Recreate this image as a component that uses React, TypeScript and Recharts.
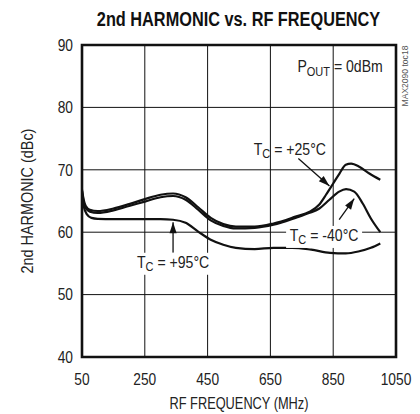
import React from 'react';
import {
  LineChart, Line, XAxis, YAxis, CartesianGrid, ReferenceArea, ReferenceDot, ReferenceLine,
} from 'recharts';

const FONT = "'Liberation Sans', Arial, sans-serif";

// x ticks / y ticks
const FREQ_TICKS = [50, 250, 450, 650, 850, 1050];
const HARM_TICKS = [40, 50, 60, 70, 80, 90];

// TC = +25°C
const FREQ_25 = [50, 55, 62, 75, 100, 150, 200, 250, 300, 340, 380, 420, 460, 500, 540, 600, 660, 730, 775, 805, 827, 850, 870, 890, 907, 933, 965, 1000];
const HARM_25 = [66.8, 65.3, 64.2, 63.6, 63.4, 63.8, 64.5, 65.3, 66.0, 66.2, 65.6, 64.0, 62.3, 61.3, 60.9, 60.9, 61.4, 62.5, 63.3, 64.4, 66.0, 67.8, 69.4, 70.8, 71.0, 70.5, 69.4, 68.4];

// TC = -40°C
const FREQ_M40 = [50, 55, 62, 75, 100, 150, 200, 250, 300, 340, 380, 420, 460, 500, 540, 600, 660, 730, 775, 806, 838, 869, 891, 917, 944, 970, 1000];
const HARM_M40 = [66.6, 65.0, 63.9, 63.3, 63.1, 63.5, 64.2, 64.9, 65.6, 65.8, 65.2, 63.6, 61.9, 61.0, 60.6, 60.7, 61.2, 62.3, 63.1, 63.8, 65.2, 66.5, 66.9, 66.5, 64.6, 62.2, 60.0];

// TC = +95°C
const FREQ_95 = [50, 55, 65, 80, 100, 150, 200, 250, 300, 340, 380, 420, 460, 500, 540, 600, 660, 720, 780, 840, 890, 930, 970, 1000];
const HARM_95 = [65.5, 64.2, 62.9, 62.3, 62.15, 62.1, 62.1, 62.1, 62.1, 62.0, 61.5, 60.1, 58.8, 58.0, 57.5, 57.3, 57.5, 57.5, 57.2, 56.7, 56.6, 56.9, 57.5, 58.2];

const toPoints = (fs: number[], vs: number[]) => fs.map((f, i) => ({ f, v: vs[i] }));

const series = [
  { name: '+25', data: toPoints(FREQ_25, HARM_25) },
  { name: '-40', data: toPoints(FREQ_M40, HARM_M40) },
  { name: '+95', data: toPoints(FREQ_95, HARM_95) },
];

// label baseline position, arrow tail -> tip (data units), arrow angle in screen degrees
const NOTES = [
  { rest: ' = +25°C', x: 712, y: 72.4, bg: false, tail: [739, 71.8], tip: [838, 67.4], angle: 42 },
  { rest: ' = -40°C', x: 821, y: 58.6, bg: true, tail: [869, 62.0], tip: [917, 65.4], angle: -56 },
  { rest: ' = +95°C', x: 340, y: 54.3, bg: true, tail: [340, 56.7], tip: [340, 61.6], angle: -90 },
];

// condensed-looking text: regular sans squeezed horizontally
function Narrow({ x, y, anchor = 'middle', size = 16, weight, sx = 0.86, rotate = 0, fill = '#222', children }: any) {
  return (
    <text
      transform={`translate(${x},${y}) rotate(${rotate}) scale(${sx},1)`}
      textAnchor={anchor}
      fontFamily={FONT}
      fontSize={size}
      fontWeight={weight}
      fill={fill}
    >
      {children}
    </text>
  );
}

function XTick({ x, y, payload }: any) {
  return <Narrow x={x} y={y + 11}>{payload.value}</Narrow>;
}

function YTick({ x, y, payload }: any) {
  return <Narrow x={x} y={y + 5.8} anchor="end">{payload.value}</Narrow>;
}

function NoteText({ cx, cy, main, sub, rest, bg }: any) {
  return (
    <g>
      {bg && <rect x={cx - 38} y={cy - 15} width={76} height={22} fill="#fff" />}
      <Narrow x={cx} y={cy} sx={0.88}>
        <tspan>{main}</tspan>
        <tspan fontSize={12.5} dy={3.5}>{sub}</tspan>
        <tspan dy={-3.5}>{rest}</tspan>
      </Narrow>
    </g>
  );
}

function ArrowHead({ cx, cy, angle }: any) {
  return (
    <path
      d="M0,0 L-11,-3.6 L-11,3.6 Z"
      fill="#111"
      transform={`translate(${cx},${cy}) rotate(${angle})`}
    />
  );
}

export default function App() {
  return (
    <div style={{ position: 'absolute', left: 0, top: 0, width: 420, height: 414, background: '#fff' }}>
      <LineChart width={420} height={414} margin={{ top: 45, right: 24, bottom: 0, left: 0 }}>
        <CartesianGrid stroke="#111" strokeWidth={1} />
        <XAxis
          dataKey="f"
          type="number"
          domain={[50, 1050]}
          ticks={FREQ_TICKS}
          allowDataOverflow
          axisLine={false}
          tickLine={false}
          tickSize={0}
          tickMargin={17}
          height={57}
          tick={<XTick />}
          label={{
            content: (p: any) => (
              <Narrow x={p.viewBox.x + p.viewBox.width / 2} y={409} sx={0.8}>RF FREQUENCY (MHz)</Narrow>
            ),
          }}
        />
        <YAxis
          dataKey="v"
          type="number"
          domain={[40, 90]}
          ticks={HARM_TICKS}
          allowDataOverflow
          axisLine={false}
          tickLine={false}
          tickSize={0}
          tickMargin={9}
          width={82}
          tick={<YTick />}
          label={{
            content: (p: any) => (
              <Narrow x={33} y={p.viewBox.y + p.viewBox.height / 2} rotate={-90} sx={0.9}>2nd HARMONIC (dBc)</Narrow>
            ),
          }}
        />
        <ReferenceArea x1={50} x2={1050} y1={40} y2={90} fill="none" stroke="#111" strokeWidth={2.6} ifOverflow="visible" />
        {series.map((s) => (
          <Line
            key={s.name}
            data={s.data}
            dataKey="v"
            type="monotone"
            stroke="#111"
            strokeWidth={2.2}
            dot={false}
            activeDot={false}
            isAnimationActive={false}
          />
        ))}
        {NOTES.map((n, i) => (
          <ReferenceLine
            key={`l${i}`}
            segment={[{ x: n.tail[0], y: n.tail[1] }, { x: n.tip[0], y: n.tip[1] }]}
            stroke="#111"
            strokeWidth={1.3}
            ifOverflow="visible"
          />
        ))}
        {NOTES.map((n, i) => (
          <ReferenceDot
            key={`a${i}`}
            x={n.tip[0]}
            y={n.tip[1]}
            ifOverflow="visible"
            shape={(p: any) => <ArrowHead cx={p.cx} cy={p.cy} angle={n.angle} />}
          />
        ))}
        {NOTES.map((n, i) => (
          <ReferenceDot
            key={`t${i}`}
            x={n.x}
            y={n.y}
            ifOverflow="visible"
            shape={(p: any) => <NoteText cx={p.cx} cy={p.cy} main="T" sub="C" rest={n.rest} bg={n.bg} />}
          />
        ))}
        <ReferenceDot
          x={872}
          y={85.6}
          ifOverflow="visible"
          shape={(p: any) => (
            <Narrow x={p.cx} y={p.cy} sx={0.88}>
              <tspan>P</tspan>
              <tspan fontSize={12.5} dy={3.5}>OUT</tspan>
              <tspan dy={-3.5}> = 0dBm</tspan>
            </Narrow>
          )}
        />
      </LineChart>
      <svg width={420} height={414} style={{ position: 'absolute', left: 0, top: 0, pointerEvents: 'none' }}>
        <Narrow x={238.5} y={26} size={20} weight="bold" sx={0.815} fill="#111">
          2nd HARMONIC vs. RF FREQUENCY
        </Narrow>
        <Narrow x={408} y={76} size={9} rotate={-90} sx={0.95} fill="#555">
          MAX2090 toc18
        </Narrow>
      </svg>
    </div>
  );
}
